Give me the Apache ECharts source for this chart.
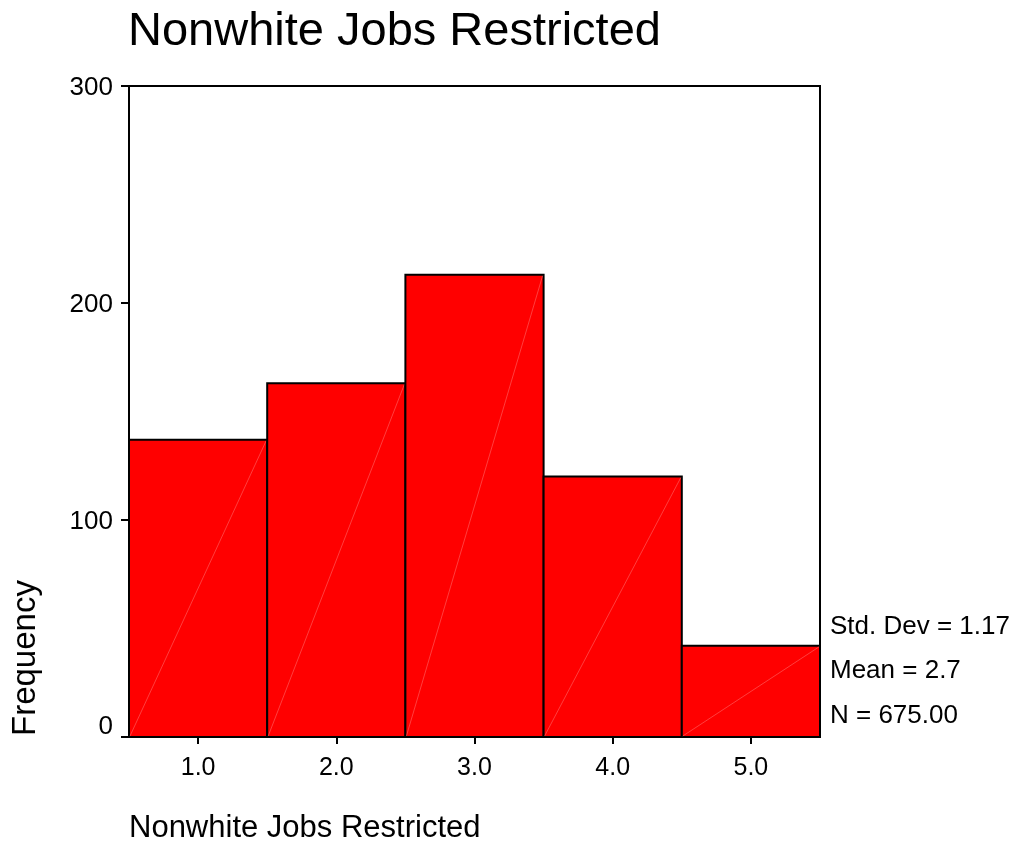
<!DOCTYPE html>
<html>
<head>
<meta charset="utf-8">
<script src="https://cdn.jsdelivr.net/npm/echarts@6/dist/echarts.min.js"></script>
<style>html,body{margin:0;padding:0;background:#fff;}#c{width:1016px;height:861px;}</style>
</head>
<body>
<div id="c"></div>
<script>
const categories = ['1.0', '2.0', '3.0', '4.0', '5.0'];
const frequencies = [137, 163, 213, 120, 42];
const yTicks = [0, 100, 200, 300];
const chartTitle = 'Nonwhite Jobs Restricted';
const xAxisTitle = 'Nonwhite Jobs Restricted';
const yAxisTitle = 'Frequency';
const statLines = ['Std. Dev = 1.17', 'Mean = 2.7', 'N = 675.00'];

const FONT = '"Liberation Sans", Arial, Helvetica, sans-serif';
const chart = echarts.init(document.getElementById('c'), null, {renderer: 'canvas'});

const option = {
  animation: false,
  backgroundColor: '#ffffff',
  textStyle: {fontFamily: FONT},
  grid: {left: 129, top: 86, width: 691, height: 651, show: true, borderColor: '#000', borderWidth: 2, backgroundColor: 'transparent'},
  xAxis: {
    type: 'category',
    data: categories,
    boundaryGap: true,
    axisLine: {lineStyle: {color: '#000', width: 2}},
    axisTick: {show: true, alignWithLabel: true, length: 7, lineStyle: {color: '#000', width: 2}},
    axisLabel: {color: '#000', fontSize: 25, fontFamily: FONT, margin: 19},
    splitLine: {show: false}
  },
  yAxis: {
    type: 'value',
    min: yTicks[0], max: yTicks[yTicks.length - 1], interval: 100,
    axisLine: {show: true, lineStyle: {color: '#000', width: 2}},
    axisTick: {show: true, length: 8, lineStyle: {color: '#000', width: 2}},
    axisLabel: {
      color: '#000', fontSize: 26, fontFamily: FONT, margin: 16,
      formatter: function (v) { return v === 0 ? '{z|0}' : '{n|' + v + '}'; },
      rich: {
        z: {fontSize: 26, fontFamily: FONT, color: '#000', padding: [0, 0, 20, 0]},
        n: {fontSize: 26, fontFamily: FONT, color: '#000', padding: [4, 0, 0, 0]}
      }
    },
    splitLine: {show: false}
  },
  series: [{
    type: 'custom',
    data: frequencies.map((v, i) => [i, v]),
    renderItem: function (params, api) {
      const idx = api.value(0);
      const val = api.value(1);
      const top = api.coord([idx, val]);
      const base = api.coord([idx, 0]);
      const w = api.size([1, 0])[0];
      const x0 = top[0] - w / 2, x1 = top[0] + w / 2;
      return {
        type: 'group',
        children: [
          {type: 'rect', shape: {x: x0, y: top[1], width: w, height: base[1] - top[1]},
           style: {fill: '#ff0000', stroke: '#000', lineWidth: 2}},
          {type: 'line', shape: {x1: x0 + 1, y1: base[1] - 1, x2: x1 - 1, y2: top[1] + 1},
           style: {stroke: 'rgba(255,150,150,0.7)', lineWidth: 0.6}}
        ]
      };
    }
  }],
  graphic: [
    {type: 'text', x: 128, y: 32, style: {text: chartTitle, fontSize: 47, fontFamily: FONT, fill: '#000', verticalAlign: 'middle', align: 'left'}},
    {type: 'text', x: 129, y: 828, style: {text: xAxisTitle, fontSize: 31, fontFamily: FONT, fill: '#000', verticalAlign: 'middle', align: 'left'}},
    {type: 'text', x: 26, y: 736, rotation: Math.PI / 2, style: {text: yAxisTitle, fontSize: 33, fontFamily: FONT, fill: '#000', verticalAlign: 'middle', align: 'left'}},
    {type: 'text', x: 830, y: 627, style: {text: statLines[0], fontSize: 26, fontFamily: FONT, fill: '#000', verticalAlign: 'middle', align: 'left'}},
    {type: 'text', x: 830, y: 671, style: {text: statLines[1], fontSize: 26, fontFamily: FONT, fill: '#000', verticalAlign: 'middle', align: 'left'}},
    {type: 'text', x: 830, y: 716, style: {text: statLines[2], fontSize: 26, fontFamily: FONT, fill: '#000', verticalAlign: 'middle', align: 'left'}}
  ]
};
chart.setOption(option);
</script>
</body>
</html>
